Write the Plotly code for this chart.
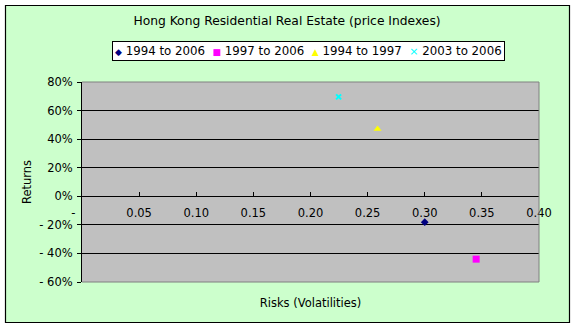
import plotly.graph_objects as go

# ---- data ----
series_names = ["1994 to 2006", "1997 to 2006", "1994 to 1997", "2003 to 2006"]
risks = [0.300, 0.345, 0.2587, 0.2246]
returns = [-0.181, -0.440, 0.471, 0.696]
colors = ["#000080", "#FF00FF", "#FFFF00", "#00FFFF"]
symbols = ["diamond", "square", "triangle-up", "x-thin"]
legend_glyphs = ["\u25C6", "\u25A0", "\u25B2", "\u00D7"]

x_tickvals = [0, 0.05, 0.10, 0.15, 0.20, 0.25, 0.30, 0.35, 0.40]
x_ticktext = ["-\u2002\u2002\u2002", "0.05", "0.10", "0.15", "0.20", "0.25", "0.30", "0.35", "0.40"]
y_tickvals = [0.8, 0.6, 0.4, 0.2, 0.0, -0.2, -0.4, -0.6]
y_ticktext = ["80%", "60%", "40%", "20%", "0%", "- 20%", "- 40%", "- 60%"]

title_text = "Hong Kong Residential Real Estate (price Indexes)"
x_title = "Risks (Volatilities)"
y_title = "Returns"

# ---- layout geometry ----
W, H = 576, 329
ML, MR, MT, MB = 82, 37, 82, 47
PW, PH = W - ML - MR, H - MT - MB
FONT = "DejaVu Sans"
FS = 11.5

def px_x(px):
    return (px - ML) / PW

def px_y(py):
    return (H - MB - py) / PH

ymin, ymax = -0.6, 0.8
xmin, xmax = 0.0, 0.4

fig = go.Figure()
for name, xv, yv, c, s in zip(series_names, risks, returns, colors, symbols):
    if s == "x-thin":
        mk = dict(color=c, symbol=s, size=5, line=dict(width=2, color=c))
    elif s == "diamond":
        mk = dict(color=c, symbol=s, size=6, line=dict(width=0))
    else:
        mk = dict(color=c, symbol=s, size=7, line=dict(width=0))
    fig.add_trace(go.Scatter(x=[xv], y=[yv], mode="markers", name=name,
                             marker=mk, showlegend=False))

# legend (manual, compact like the original)
parts = []
for g, c, n in zip(legend_glyphs, colors, series_names):
    gs = 11 if g == "\u00D7" else 9
    parts.append(f"<span style='font-size:{gs}px;color:{c}'>{g}</span>\u00a0{n}")
legend_text = "\u00a0 ".join(parts)

shapes = []
# white outer margins
for x0, y0, x1, y1 in [(0, 0, W, 5), (0, 323, W, H), (0, 0, 5, H), (570, 0, W, H)]:
    shapes.append(dict(type="rect", xref="paper", yref="paper",
                       x0=px_x(x0), x1=px_x(x1), y0=px_y(y1), y1=px_y(y0),
                       fillcolor="white", line=dict(width=0), layer="above"))
# black chart border
shapes.append(dict(type="rect", xref="paper", yref="paper",
                   x0=px_x(5.5), x1=px_x(569.5), y0=px_y(322.5), y1=px_y(5.5),
                   line=dict(color="black", width=1.2), layer="above"))
# gray plot-area border (top, right, bottom)
for x0, y0, x1, y1 in [(0, 1, 1, 1), (1, 0, 1, 1), (0, 0, 1, 0)]:
    shapes.append(dict(type="line", xref="x domain", yref="y domain",
                       x0=x0, y0=y0, x1=x1, y1=y1,
                       line=dict(color="#808080", width=1), layer="above"))

fig.update_layout(
    width=W, height=H,
    margin=dict(l=ML, r=MR, t=MT, b=MB, pad=0),
    paper_bgcolor="#CCFFCC",
    plot_bgcolor="#C0C0C0",
    font=dict(family=FONT, size=FS, color="black"),
    title=dict(text=title_text, x=287 / W, xref="container", xanchor="center",
               y=1 - 21 / H, yref="container", yanchor="middle",
               font=dict(family=FONT, size=12.3, color="black")),
    showlegend=False,
    xaxis=dict(range=[xmin, xmax], showgrid=False, zeroline=False,
               showticklabels=False, ticks="", showline=False,
               title=dict(text=x_title, standoff=16, font=dict(size=FS))),
    xaxis2=dict(range=[xmin, xmax], overlaying="x", anchor="free",
                position=(0 - ymin) / (ymax - ymin),
                tickmode="array", tickvals=x_tickvals, ticktext=x_ticktext,
                ticks="inside", ticklen=4, tickcolor="black", tickwidth=1,
                showgrid=False, zeroline=False, showline=False,
                ticklabelstandoff=8,
                tickfont=dict(family=FONT, size=FS, color="black")),
    yaxis=dict(range=[ymin, ymax], tickmode="array", tickvals=y_tickvals,
               ticktext=y_ticktext, showgrid=True, gridcolor="black",
               gridwidth=1, zeroline=False, showline=True, linecolor="black",
               linewidth=1, ticks="outside", ticklen=4, tickcolor="black",
               ticklabelstandoff=2,
               title=dict(text=y_title, standoff=5, font=dict(size=FS))),
    shapes=shapes,
    annotations=[dict(text=legend_text, xref="paper", yref="paper",
                      x=px_x(308), y=px_y(51), xanchor="center", yanchor="middle",
                      showarrow=False, bgcolor="white", bordercolor="black",
                      borderwidth=1, borderpad=2,
                      font=dict(family=FONT, size=11.8, color="black"))],
)
# dummy trace so xaxis2 renders
fig.add_trace(go.Scatter(x=[None], y=[None], xaxis="x2", yaxis="y",
                         mode="markers", showlegend=False, hoverinfo="skip"))

fig.write_html("out.html")
